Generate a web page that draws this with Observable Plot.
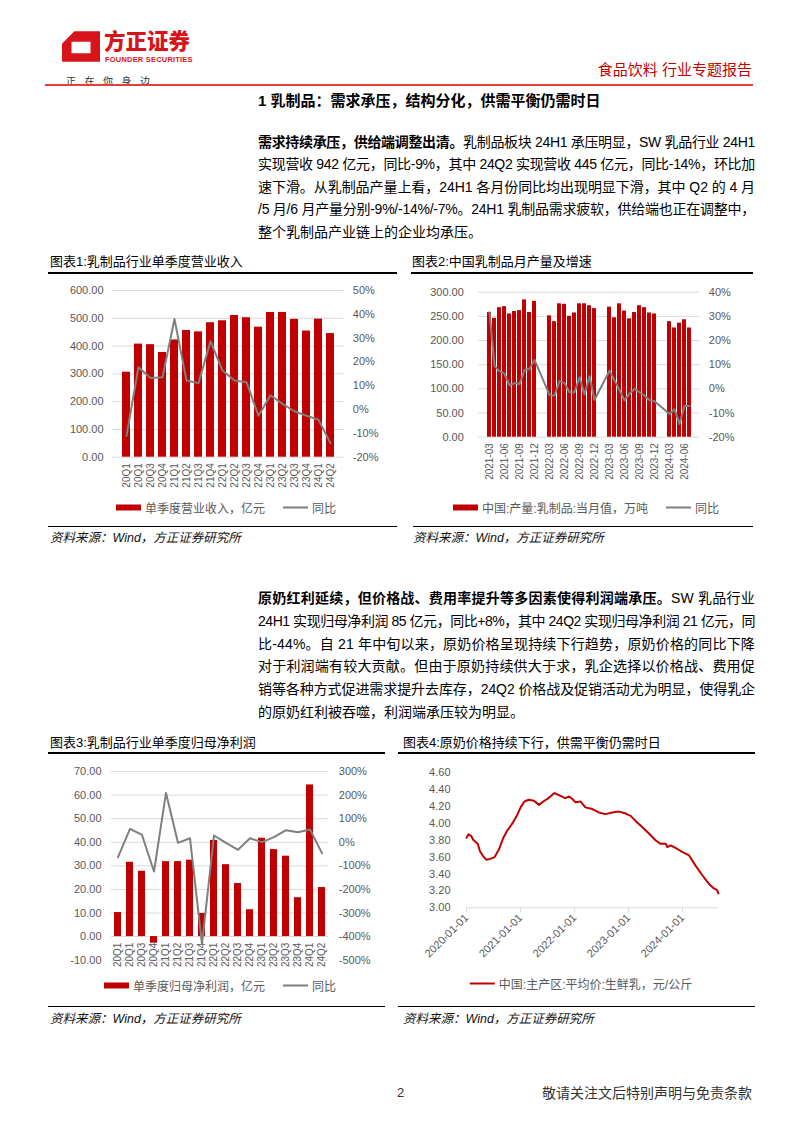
<!DOCTYPE html>
<html><head><meta charset="utf-8">
<script src="https://cdn.jsdelivr.net/npm/d3@7"></script>
<script src="https://cdn.jsdelivr.net/npm/@observablehq/plot@0.6"></script>
<style>
body{margin:0;background:#fff;width:802px;height:1133px;position:relative;overflow:hidden;font-family:"Liberation Sans","Noto Sans CJK SC",sans-serif;color:#000;}
.abs{position:absolute;white-space:nowrap;}
.line{position:absolute;left:258px;font-size:14px;line-height:20px;white-space:nowrap;}
.jl{display:inline-block;}
.ctitle{position:absolute;font-size:13px;line-height:18px;color:#000;}
.hr2{position:absolute;height:2px;background:#000;}
.hr1{position:absolute;height:1px;background:#000;}
.src{position:absolute;font-size:12.5px;font-style:italic;color:#111;line-height:16px;}
.legend{position:absolute;transform:translate(-50%,-50%);display:flex;align-items:center;white-space:nowrap;font-size:12px;color:#595959;}
.legend .it{display:flex;align-items:center;margin:0 9px;}
.swr{display:inline-block;width:25px;height:6px;margin-right:4px;}
.swl{display:inline-block;width:25px;height:2px;margin-right:4px;}
</style></head><body>

<!-- header -->
<svg class="abs" style="left:62px;top:31px" width="38" height="31" viewBox="0 0 40 32">
  <path d="M13,0 L40,0 L40,32 L0,32 L0,13 Z M10,11 L30,11 L30,23 L10,23 Z" fill="#d7141a" fill-rule="evenodd"/>
</svg>
<div class="abs" style="left:104px;top:29px;font-size:21.5px;font-weight:900;color:#d7141a;line-height:26px;">方正证券</div>
<div class="abs" style="left:105px;top:55px;font-size:7.5px;font-weight:bold;color:#d7141a;letter-spacing:0.2px;line-height:9px;">FOUNDER SECURITIES</div>
<div class="abs" style="left:66px;top:76px;font-size:10px;color:#333;letter-spacing:8.5px;line-height:12px;">正在你身边</div>
<div class="abs" style="right:50px;top:60px;font-size:15px;color:#c00000;line-height:20px;">食品饮料 行业专题报告</div>
<div class="abs" style="left:45px;top:84px;width:708px;height:1.5px;background:#e2403c;"></div>

<div class="abs" style="left:258px;top:91px;font-size:15px;font-weight:bold;line-height:20px;">1 乳制品：需求承压，结构分化，供需平衡仍需时日</div>

<div class="line" style="top:131.7px"><span class="jl"><b>需求持续承压，供给端调整出清。</b>乳制品板块 24H1 承压明显，SW 乳品行业 24H1</span></div>
<div class="line" style="top:154.2px"><span class="jl">实现营收 942 亿元，同比-9%，其中 24Q2 实现营收 445 亿元，同比-14%，环比加</span></div>
<div class="line" style="top:176.7px"><span class="jl">速下滑。从乳制品产量上看，24H1 各月份同比均出现明显下滑，其中 Q2 的 4 月</span></div>
<div class="line" style="top:199.2px"><span class="jl">/5 月/6 月产量分别-9%/-14%/-7%。24H1 乳制品需求疲软，供给端也正在调整中，</span></div>
<div class="line" style="top:221.7px"><span>整个乳制品产业链上的企业均承压。</span></div>

<div class="ctitle" style="left:50px;top:253px">图表1:乳制品行业单季度营业收入</div>
<div class="ctitle" style="left:412px;top:253px">图表2:中国乳制品月产量及增速</div>
<div class="hr2" style="left:48px;top:272px;width:349px"></div>
<div class="hr2" style="left:411px;top:272px;width:342px"></div>

<div class="legend" style="left:226px;top:507px">
  <span class="it"><span class="swr" style="background:#c00000"></span>单季度营业收入，亿元</span>
  <span class="it"><span class="swl" style="background:#7f7f7f"></span>同比</span>
</div>
<div class="legend" style="left:586px;top:507px">
  <span class="it"><span class="swr" style="background:#c00000"></span>中国:产量:乳制品:当月值，万吨</span>
  <span class="it"><span class="swl" style="background:#7f7f7f"></span>同比</span>
</div>
<div class="hr1" style="left:48px;top:526px;width:349px"></div>
<div class="hr1" style="left:413px;top:526px;width:340px"></div>
<div class="src" style="left:50px;top:530px">资料来源：Wind，方正证券研究所</div>
<div class="src" style="left:413px;top:530px">资料来源：Wind，方正证券研究所</div>

<div class="line" style="top:588.3px"><span class="jl"><b>原奶红利延续，但价格战、费用率提升等多因素使得利润端承压。</b>SW 乳品行业</span></div>
<div class="line" style="top:611px"><span class="jl">24H1 实现归母净利润 85 亿元，同比+8%，其中 24Q2 实现归母净利润 21 亿元，同</span></div>
<div class="line" style="top:633.7px"><span class="jl">比-44%。自 21 年中旬以来，原奶价格呈现持续下行趋势，原奶价格的同比下降</span></div>
<div class="line" style="top:656.4px"><span class="jl">对于利润端有较大贡献。但由于原奶持续供大于求，乳企选择以价格战、费用促</span></div>
<div class="line" style="top:679.1px"><span class="jl">销等各种方式促进需求提升去库存，24Q2 价格战及促销活动尤为明显，使得乳企</span></div>
<div class="line" style="top:701.8px"><span>的原奶红利被吞噬，利润端承压较为明显。</span></div>

<div class="ctitle" style="left:50px;top:734px">图表3:乳制品行业单季度归母净利润</div>
<div class="ctitle" style="left:403px;top:734px">图表4:原奶价格持续下行，供需平衡仍需时日</div>
<div class="hr2" style="left:48px;top:752px;width:337px"></div>
<div class="hr2" style="left:398px;top:752px;width:357px"></div>

<div class="legend" style="left:220px;top:985px">
  <span class="it"><span class="swr" style="background:#c00000"></span>单季度归母净利润，亿元</span>
  <span class="it"><span class="swl" style="background:#7f7f7f"></span>同比</span>
</div>
<div class="legend" style="left:581px;top:983px">
  <span class="it"><span class="swl" style="background:#c00000"></span>中国:主产区:平均价:生鲜乳，元/公斤</span>
</div>
<div class="hr1" style="left:48px;top:1006px;width:337px"></div>
<div class="hr1" style="left:398px;top:1006px;width:357px"></div>
<div class="src" style="left:50px;top:1011px">资料来源：Wind，方正证券研究所</div>
<div class="src" style="left:403px;top:1011px">资料来源：Wind，方正证券研究所</div>

<div class="abs" style="left:397px;top:1084px;font-size:13px;line-height:18px;color:#333">2</div>
<div class="abs" style="right:50px;top:1083px;font-size:14px;line-height:20px;color:#333">敬请关注文后特别声明与免责条款</div>

<script>
// ---------- data ----------
const quarters = ["20Q1","20Q1","20Q3","20Q4","21Q1","21Q2","21Q3","21Q4","22Q1","22Q2","22Q3","22Q4","23Q1","23Q2","23Q3","23Q4","24Q1","24Q2"];
const revenue = [306,407,405,377,422,456,451,484,491,510,502,468,521,521,496,454,497,445];
const revenueYoY = [-11,17.8,13.3,13.6,38,12.2,11.1,28.7,16.4,12.2,11.5,-2.6,6.0,2.4,-0.7,-2.6,-4.3,-14.1];

const prodMonths = ["2021-03","2021-04","2021-05","2021-06","2021-07","2021-08","2021-09","2021-10","2021-11","2021-12",
  "2022-03","2022-04","2022-05","2022-06","2022-07","2022-08","2022-09","2022-10","2022-11","2022-12",
  "2023-03","2023-04","2023-05","2023-06","2023-07","2023-08","2023-09","2023-10","2023-11","2023-12",
  "2024-03","2024-04","2024-05","2024-06","2024-07"];
const production = [258,246,268,270,255,260,262,284,258,281,
  251,239,276,275,250,257,276,276,272,266,
  269,247,276,261,245,258,272,268,257,255,
  239,226,236,243,226];
const productionYoY = [31.7,9.5,7.3,6.3,1.5,2.3,2.0,7.8,8.2,12.0,
  -2.5,-2.8,3.2,2.4,-1.4,-1.4,4.8,-2.3,5.2,-4.6,
  7.5,3.5,-0.5,-4.8,-2.0,0.0,-1.4,-2.8,-4.6,-5.1,
  -10.4,-8.5,-14.5,-7.1,-7.1];

const profit = [10.2,31.5,27.7,-2.8,31.8,31.8,32.4,9.8,40.8,30.5,22.5,11.4,41.7,36.9,34.1,16.5,64.3,20.8];
const profitYoY = [-63,57,31,-124,209,-2.5,17,-432,28.6,-2.5,-32,17,0.4,21.6,51,42.8,54,-46];

const milkDates = ["2020-01-01","2020-01-15","2020-02-03","2020-02-14","2020-03-03","2020-03-17","2020-04-01","2020-04-23","2020-05-15","2020-06-10",
  "2020-07-08","2020-08-07","2020-09-06","2020-10-01","2020-11-06","2020-12-06","2021-01-01","2021-01-27","2021-02-25","2021-04-01",
  "2021-05-05","2021-06-03","2021-07-09","2021-08-18","2021-09-24","2021-10-30","2021-11-25","2021-12-17","2022-01-08","2022-02-10",
  "2022-03-15","2022-05-01","2022-06-14","2022-07-27","2022-09-13","2022-10-27","2022-12-09","2023-01-15","2023-02-17","2023-04-01",
  "2023-05-19","2023-07-02","2023-08-04","2023-09-09","2023-09-20","2023-10-12","2023-11-24","2024-01-01","2024-02-14","2024-03-29",
  "2024-05-16","2024-06-29","2024-07-31","2024-08-22","2024-08-30"];
const milkPrice = [3.83,3.87,3.85,3.81,3.78,3.76,3.67,3.61,3.57,3.58,
  3.60,3.69,3.83,3.91,4.00,4.09,4.19,4.26,4.28,4.27,
  4.22,4.26,4.30,4.36,4.33,4.30,4.32,4.29,4.25,4.26,
  4.19,4.17,4.13,4.11,4.13,4.14,4.12,4.09,4.03,3.96,
  3.88,3.80,3.76,3.76,3.72,3.74,3.70,3.66,3.62,3.50,
  3.38,3.28,3.23,3.21,3.17];

// ---------- helpers ----------
const FONT = '"Liberation Sans","Noto Sans CJK SC",sans-serif';
const st = {background:"transparent", fontFamily:FONT, fontSize:"11px", color:"#595959", overflow:"visible"};
function place(svg, left, top){ svg.style.position="absolute"; svg.style.left=left+"px"; svg.style.top=top+"px"; document.body.appendChild(svg); }
const RED = "#c00000", GREY = "#7f7f7f", GRID = "#d9d9d9";
const qi = d3.range(quarters.length);
const pct = d => d + "%";

// ---------- chart 1 ----------
const d1 = {width:345, height:216.7, marginLeft:72, marginRight:41.7, marginTop:10, marginBottom:40};
const x1 = {type:"band", domain:qi, paddingInner:0.375, paddingOuter:0.1875};
const t1 = d3.range(0,601,100);
place(Plot.plot({...d1, style:st,
  x:x1, y:{domain:[0,600]},
  marks:[
    Plot.gridY({ticks:t1, stroke:GRID, strokeOpacity:1}),
    Plot.barY(qi, {x:i=>i, y:i=>revenue[i], fill:RED}),
    Plot.axisY({ticks:t1, anchor:"left", tickSize:0, tickPadding:9, tickFormat:d=>d.toFixed(2)}),
    Plot.axisX({anchor:"bottom", tickSize:0, tickRotate:-90, tickPadding:6, tickFormat:i=>quarters[i], fontSize:10})
  ]}), 40, 280);
place(Plot.plot({...d1, style:st,
  x:{...x1, axis:null}, y:{domain:[-20,50]},
  marks:[
    Plot.axisY({ticks:d3.range(-20,51,10), anchor:"right", tickSize:0, tickPadding:9, tickFormat:pct}),
    Plot.line(qi, {x:i=>i, y:i=>revenueYoY[i], stroke:GREY, strokeWidth:2})
  ]}), 40, 280);

// ---------- chart 2 ----------
const monthSlots = d3.utcMonth.range(new Date("2021-03-01"), new Date("2024-08-01")).map(d3.utcFormat("%Y-%m"));
const pi = d3.range(prodMonths.length);
const d2 = {width:345, height:201.7, marginLeft:78.3, marginRight:45.7, marginTop:11.7, marginBottom:45};
const x2 = {type:"band", domain:monthSlots, paddingInner:0.3, paddingOuter:0.15};
const t2 = d3.range(0,301,50);
place(Plot.plot({...d2, style:st,
  x:x2, y:{domain:[0,300]},
  marks:[
    Plot.gridY({ticks:t2, stroke:GRID, strokeOpacity:1}),
    Plot.barY(pi, {x:i=>prodMonths[i], y:i=>production[i], fill:RED}),
    Plot.axisY({ticks:t2, anchor:"left", tickSize:0, tickPadding:15, tickFormat:d=>d.toFixed(2)}),
    Plot.axisX({ticks:monthSlots.filter(m=>["03","06","09","12"].includes(m.slice(5))), anchor:"bottom", tickSize:0, tickRotate:-90, tickPadding:6, fontSize:10})
  ]}), 400, 280);
place(Plot.plot({...d2, style:st,
  x:{...x2, axis:null}, y:{domain:[-20,40]},
  marks:[
    Plot.axisY({ticks:d3.range(-20,41,10), anchor:"right", tickSize:0, tickPadding:9, tickFormat:pct}),
    Plot.line(pi, {x:i=>prodMonths[i], y:i=>productionYoY[i], stroke:GREY, strokeWidth:2})
  ]}), 400, 280);

// ---------- chart 3 ----------
const d3d = {width:345, height:209.7, marginLeft:71, marginRight:56.7, marginTop:11, marginBottom:10};
const x3 = {type:"band", domain:qi, paddingInner:0.4, paddingOuter:0.2};
const t3 = d3.range(-10,71,10);
place(Plot.plot({...d3d, style:st,
  x:{...x3, axis:null}, y:{domain:[-10,70]},
  marks:[
    Plot.gridY({ticks:t3, stroke:GRID, strokeOpacity:1}),
    Plot.barY(qi, {x:i=>i, y:i=>profit[i], fill:RED}),
    Plot.axisY({ticks:t3, anchor:"left", tickSize:0, tickPadding:10, tickFormat:d=>d.toFixed(2)}),
    Plot.text(qi, {x:i=>i, y:()=>0, text:i=>quarters[i], rotate:-90, textAnchor:"end", dy:6, fontSize:10, fill:"#595959"})
  ]}), 40, 760);
place(Plot.plot({...d3d, style:st,
  x:{...x3, axis:null}, y:{domain:[-500,300]},
  marks:[
    Plot.axisY({ticks:d3.range(-500,301,100), anchor:"right", tickSize:0, tickPadding:10, tickFormat:pct}),
    Plot.line(qi, {x:i=>i, y:i=>profitYoY[i], stroke:GREY, strokeWidth:2})
  ]}), 40, 760);

// ---------- chart 4 ----------
const mi = d3.range(milkDates.length);
const years = [2020,2021,2022,2023,2024].map(y=>new Date(Date.UTC(y,0,1)));
const t4 = d3.range(0,9).map(i=>+(3+i*0.2).toFixed(1));
place(Plot.plot({width:345, height:195.3, marginLeft:71, marginRight:22, marginTop:10.3, marginBottom:50, style:st,
  x:{type:"utc", domain:[new Date("2020-01-01"), new Date("2024-08-31")]},
  y:{domain:[3,4.6]},
  marks:[
    Plot.ruleY([3], {stroke:GRID}),
    Plot.ruleX(years, {y1:()=>3, y2:()=>2.94, stroke:GRID}),
    Plot.axisY({ticks:t4, anchor:"left", tickSize:0, tickPadding:16, tickFormat:d=>d.toFixed(2)}),
    Plot.axisX({ticks:years, anchor:"bottom", tickSize:0, tickPadding:8, tickRotate:-45, textAnchor:"end", tickFormat:d3.utcFormat("%Y-%m-%d"), fontSize:11}),
    Plot.line(mi, {x:i=>new Date(milkDates[i]), y:i=>milkPrice[i], stroke:RED, strokeWidth:2})
  ]}), 395, 762);

// ---------- justify body lines ----------
function fit(){
  document.querySelectorAll(".jl").forEach(el=>{
    el.style.letterSpacing="0px";
    const w = el.getBoundingClientRect().width;
    const n = el.textContent.length;
    el.style.letterSpacing = ((497 - w)/n) + "px";
  });
}
fit();
if (document.fonts && document.fonts.ready) document.fonts.ready.then(fit);
</script>
</body></html>
